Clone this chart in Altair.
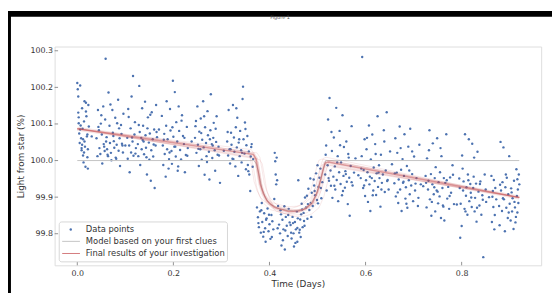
import altair as alt
import pandas as pd

TITLE = "Transit Light Curve of TOI-560c"
X_TITLE = "Time (Days)"
Y_TITLE = "Light from star (%)"
X_TICKS = [0.0, 0.2, 0.4, 0.6, 0.8]
Y_TICKS = [99.8, 99.9, 100.0, 100.1, 100.2, 100.3]
LEGEND_LABELS = ["Data points", "Model based on your first clues", "Final results of your investigation"]

PRE_X = [
    0.000,0.001,0.002,0.003,0.004,0.005,0.006,0.007,0.008,0.009,0.010,0.011,0.012,0.013,0.014,0.015,0.016,0.017,0.018,0.019,0.020,0.021,0.022,0.023,0.024,0.002,0.006,0.010,0.014,0.018,0.022,0.012,
    0.040,0.042,0.043,0.045,0.046,0.048,0.049,0.051,0.052,0.054,0.055,0.057,0.058,0.059,0.061,0.062,0.064,0.065,0.067,0.068,0.070,0.071,0.073,0.074,0.076,0.077,0.079,0.080,0.082,0.083,0.085,0.086,0.088,0.089,0.091,0.092,0.094,0.095,0.096,0.060,
    0.104,0.105,0.107,0.108,0.109,0.111,0.112,0.113,0.115,0.116,0.117,0.119,0.120,0.122,
    0.126,0.127,0.129,0.130,0.131,0.133,0.134,0.135,0.137,0.138,0.139,0.141,0.142,0.143,0.145,0.146,0.147,0.149,0.150,0.151,0.153,0.154,0.155,0.157,0.158,0.160,0.161,0.163,0.164,0.166,
    0.176,0.178,0.179,0.181,0.182,0.184,0.185,0.187,0.188,0.190,0.191,0.193,0.194,0.196,0.197,0.199,0.200,0.202,0.203,0.205,0.206,0.208,0.209,0.211,0.212,0.214,0.216,0.218,0.220,0.222,0.224,0.226,0.228,0.230,
    0.245,0.247,0.248,0.250,0.251,0.253,0.254,0.256,0.257,0.259,0.260,0.262,0.263,0.265,0.266,0.268,0.269,0.271,0.272,0.274,0.275,0.277,0.278,0.280,0.281,0.283,0.284,0.286,0.287,0.289,0.290,0.292,0.294,0.297,
    0.312,0.314,0.315,0.317,0.318,0.320,0.321,0.323,0.324,0.326,0.327,0.329,0.330,0.332,0.333,0.335,0.336,0.338,0.339,0.341,0.342,0.344,0.345,0.346,0.348,0.349,0.351,0.352,0.354,0.355,0.357,0.358,0.360,0.361,0.363,0.365,
]
PRE_Y = [
    100.212,100.195,100.131,100.102,100.074,100.048,100.205,100.096,100.061,100.028,100.143,100.087,100.014,99.995,100.107,100.052,100.038,99.983,100.158,100.121,100.066,100.009,99.978,100.152,100.093,100.175,100.085,100.043,100.022,100.134,100.031,100.058,
    100.061,100.012,100.138,100.083,100.034,100.018,100.101,100.071,99.992,100.148,100.045,100.026,100.112,100.278,100.064,100.031,100.012,100.186,100.095,100.048,100.021,100.001,100.138,100.076,100.053,100.035,100.117,100.008,100.043,100.102,100.166,100.027,100.061,99.985,100.097,100.073,100.041,100.022,100.128,100.052,
    100.062,100.005,100.119,100.041,99.968,100.088,100.022,100.175,100.052,100.231,100.013,100.071,100.105,100.034,
    100.045,100.012,100.204,100.078,99.988,100.062,100.031,100.143,100.095,100.052,100.017,100.161,100.069,100.035,99.962,100.088,100.118,100.049,100.002,100.074,99.945,100.028,100.132,100.058,100.011,100.085,99.925,100.041,100.152,100.064,
    100.122,100.041,99.988,100.073,100.018,99.956,100.095,100.031,100.058,99.978,100.004,100.141,100.082,100.026,99.991,100.218,100.065,100.038,100.187,100.011,100.105,100.052,99.972,100.148,100.081,100.029,100.003,100.124,100.067,100.045,99.968,100.015,100.092,100.034,
    100.062,100.108,100.021,100.148,100.043,99.985,100.079,100.031,100.115,100.002,100.057,100.162,100.036,99.961,100.091,100.048,100.012,100.135,100.069,100.024,99.948,100.083,100.181,100.045,100.007,100.062,100.103,100.028,99.972,100.051,100.121,100.016,100.038,99.939,
    100.052,100.014,100.138,100.031,99.992,100.076,100.043,100.005,100.152,100.063,100.024,99.984,100.091,100.036,100.117,99.958,100.049,100.012,100.081,100.028,99.995,100.168,100.202,100.058,100.019,100.104,99.976,100.042,100.067,99.988,100.025,99.962,99.917,100.011,100.045,99.983,
]
PRE2_X = [
    0.003,0.009,0.015,0.021,0.044,0.050,0.056,0.063,0.069,0.075,0.081,0.087,0.093,0.106,0.114,0.121,0.128,0.136,0.144,0.152,0.159,0.165,0.180,0.186,0.192,0.198,0.204,0.210,0.217,0.223,0.229,0.246,0.252,0.258,0.264,0.270,0.276,0.282,0.288,0.295,0.313,0.319,0.325,0.331,0.337,0.343,0.350,0.356,0.362,0.366,0.030,0.100,0.170,0.238,0.305,
]
PRE2_Y = [
    100.118,100.034,100.162,100.071,100.092,100.124,100.038,100.016,100.153,100.067,100.005,100.088,100.046,100.141,100.063,100.019,100.097,100.056,100.009,100.125,100.044,100.078,100.057,100.162,100.022,100.091,100.038,99.984,100.109,100.062,100.013,100.094,100.032,100.075,100.121,99.996,100.058,100.041,100.087,100.014,100.078,100.031,100.004,100.143,100.058,100.021,100.086,99.971,100.037,100.004,100.066,100.041,100.085,100.052,100.027,
]
TRANSIT_X = [
    0.374,0.376,0.378,0.380,0.382,0.384,0.385,0.387,0.389,0.391,0.392,0.394,0.396,0.398,0.400,0.402,0.404,0.406,0.408,0.410,0.411,0.412,0.413,0.414,0.415,0.416,0.418,0.420,0.422,0.424,0.425,0.427,0.429,0.431,0.432,0.434,0.436,0.438,0.440,0.442,
    0.444,0.446,0.448,0.450,0.451,0.453,0.455,0.457,0.458,0.460,0.462,0.464,0.465,0.467,0.469,0.471,0.472,0.474,0.476,0.478,0.479,0.481,0.483,0.485,0.486,0.488,0.490,0.492,0.493,0.495,0.497,0.499,0.500,0.502,0.504,0.506,0.508,0.510,0.458,0.466,
    0.377,0.383,0.388,0.393,0.399,0.405,0.417,0.423,0.428,0.433,0.439,0.445,0.449,0.454,0.459,0.463,0.468,0.473,0.480,0.487,0.494,0.501,0.507,
]
TRANSIT_Y = [
    99.872,99.845,99.818,99.861,99.803,99.884,99.832,99.792,99.856,99.815,99.778,99.842,99.869,99.807,99.826,99.786,99.851,99.834,99.812,99.895,100.021,99.998,99.962,99.935,100.008,99.946,99.876,99.825,99.801,99.853,99.768,99.838,99.812,99.875,99.757,99.846,99.822,99.794,99.868,99.831,
    99.824,99.787,99.846,99.801,99.765,99.832,99.812,99.861,99.778,99.946,99.803,99.839,99.791,99.882,99.818,99.857,99.835,99.899,99.872,99.904,99.841,99.923,99.865,99.951,99.884,99.912,99.876,99.948,99.932,99.905,99.965,99.892,99.987,99.928,99.953,99.978,99.897,99.941,99.816,99.853,
    99.829,99.864,99.805,99.838,99.852,99.791,99.815,99.864,99.782,99.809,99.851,99.803,99.829,99.775,99.842,99.811,99.866,99.822,99.881,99.846,99.917,99.883,99.925,
]
POST_X = [
    0.516,0.518,0.519,0.521,0.522,0.524,0.525,0.527,0.528,0.530,0.531,0.533,0.534,0.536,0.537,0.539,0.540,0.542,0.543,0.545,0.546,0.548,0.549,0.551,0.552,0.554,0.555,0.557,0.558,0.560,0.561,0.563,0.564,0.566,0.567,0.569,0.571,0.573,0.576,0.579,
    0.590,0.592,0.593,0.595,0.596,0.598,0.599,0.601,0.602,0.604,0.605,0.607,0.608,0.610,0.611,0.613,0.614,0.616,0.617,0.619,0.620,0.622,0.623,0.625,0.626,0.628,0.629,0.631,0.632,0.634,0.636,0.638,0.640,0.642,0.644,0.646,0.648,0.651,
    0.660,0.662,0.663,0.665,0.666,0.668,0.669,0.671,0.672,0.674,0.675,0.677,0.678,0.680,0.681,0.683,0.684,0.686,0.687,0.689,0.690,0.692,0.693,0.695,0.697,0.699,0.701,0.703,0.706,0.709,0.712,0.715,
    0.725,0.727,0.728,0.730,0.731,0.733,0.734,0.736,0.737,0.739,0.740,0.742,0.743,0.745,0.746,0.748,0.749,0.751,0.752,0.754,0.755,0.757,0.758,0.760,0.761,0.763,0.764,0.766,0.768,0.770,0.772,0.774,0.776,0.778,0.781,0.784,
    0.795,0.797,0.798,0.800,0.801,0.803,0.804,0.806,0.807,0.809,0.810,0.812,0.813,0.815,0.816,0.818,0.819,0.821,0.822,0.824,0.825,0.827,0.828,0.830,0.831,0.833,0.835,0.837,0.839,0.841,0.843,0.845,0.848,0.851,
    0.862,0.863,0.864,0.866,0.867,0.868,0.870,0.872,
    0.878,0.879,0.881,0.882,0.884,0.885,0.887,0.888,0.890,0.891,0.893,0.894,0.896,0.897,0.899,0.900,0.902,0.903,0.905,0.906,0.908,0.909,0.911,0.912,0.914,0.915,0.916,0.917,0.918,0.919,0.920,0.913,
]
POST_Y = [
    99.962,100.041,99.918,99.987,100.112,99.945,100.171,99.973,99.931,100.026,99.898,99.956,100.063,99.984,99.921,100.144,99.947,100.012,99.889,99.968,100.081,99.936,99.995,99.905,100.124,99.958,100.037,99.926,99.971,100.052,99.942,99.881,100.018,99.953,99.849,99.985,100.094,99.932,99.967,100.006,
    99.952,100.012,100.283,99.925,99.974,100.058,99.903,99.946,100.031,99.968,99.887,100.096,99.935,99.862,100.003,99.952,100.071,99.918,99.981,99.944,100.045,99.906,99.965,100.121,99.928,99.987,99.952,99.874,100.016,99.939,99.962,100.083,99.914,99.973,100.132,99.947,99.921,100.025,
    99.938,100.061,99.902,99.967,100.021,99.884,99.948,100.093,99.921,99.975,99.862,100.004,99.939,99.958,100.072,99.896,99.927,99.985,99.871,100.038,99.946,99.908,100.087,99.932,99.963,99.889,100.011,99.918,99.952,99.876,100.043,99.935,
    99.958,99.872,100.006,99.921,99.945,100.083,99.894,99.963,99.849,99.935,100.047,99.908,99.927,99.861,99.982,99.918,100.061,99.883,99.941,99.902,99.968,99.843,100.012,99.925,99.877,99.952,99.836,99.939,100.072,99.896,99.928,99.868,99.954,99.912,99.987,99.881,
    99.951,99.789,99.882,99.821,100.014,99.918,99.943,99.868,100.072,99.904,99.927,99.852,99.962,100.058,99.889,99.936,99.912,99.873,100.046,99.925,99.956,99.861,99.898,99.937,99.833,100.024,99.915,99.877,99.943,99.852,99.905,99.736,99.962,99.887,
    99.958,99.832,99.901,99.873,99.947,99.812,99.925,99.894,
    99.876,99.823,100.051,99.918,99.862,99.941,100.036,99.894,99.807,99.927,99.871,99.953,99.843,99.908,100.012,99.882,99.836,99.924,99.861,99.897,99.813,99.945,99.872,99.831,99.976,99.903,99.858,99.921,99.884,99.962,99.935,99.846,
]
POST2_X = [
    0.517,0.523,0.529,0.535,0.541,0.547,0.553,0.559,0.565,0.571,0.591,0.597,0.603,0.609,0.615,0.621,0.627,0.633,0.639,0.645,0.661,0.667,0.673,0.679,0.685,0.691,0.697,0.704,0.710,0.726,0.732,0.738,0.744,0.750,0.756,0.762,0.769,0.775,0.782,0.796,0.802,0.808,0.814,0.820,0.826,0.832,0.838,0.844,0.850,0.865,0.869,0.880,0.886,0.892,0.898,0.904,0.910,0.916,0.585,0.655,0.720,0.790,0.857,
]
POST2_Y = [
    100.016,99.952,100.078,99.931,99.995,100.042,99.917,99.963,100.008,99.941,99.978,99.932,100.062,99.956,99.905,100.018,99.967,99.921,100.052,99.944,99.965,99.913,100.034,99.942,99.882,99.973,100.025,99.937,99.898,99.939,100.028,99.887,99.952,99.915,100.034,99.874,99.946,99.903,99.961,99.925,99.978,99.861,99.946,99.899,100.008,99.871,99.936,99.893,99.921,99.917,99.851,99.934,99.897,99.962,99.858,99.913,99.887,99.949,99.960,99.990,99.930,99.880,99.900,
]

MODEL_X = [0.0, 0.368, 0.373, 0.378, 0.384, 0.391, 0.40, 0.42, 0.45, 0.47, 0.485, 0.497, 0.505, 0.511, 0.515, 0.517, 0.92]
MODEL_Y = [100.0, 100.0, 99.99, 99.963, 99.925, 99.9, 99.882, 99.868, 99.862, 99.866, 99.88, 99.905, 99.94, 99.97, 99.99, 100.0, 100.0]

FINAL_X = [0.0, 0.366, 0.372, 0.376, 0.381, 0.387, 0.395, 0.41, 0.44, 0.46, 0.475, 0.49, 0.5, 0.507, 0.512, 0.516, 0.522, 0.92]
FINAL_Y = [100.087, 100.017, 100.005, 99.975, 99.935, 99.91, 99.89, 99.872, 99.861, 99.862, 99.868, 99.885, 99.915, 99.95, 99.978, 99.993, 99.996, 99.899]

# posterior-sample offsets of the fitted transit (time shift, depth shift)
SAMPLE_DX = [-0.013, -0.008, -0.004, 0.004, 0.008, 0.013]
SAMPLE_DY = [0.008, -0.006, 0.013, -0.010, 0.004, -0.014]

FONT = "DejaVu Sans"
TXT = "#333333"
BLUE = "#4c72b0"
RED = "#c44e52"
GRAY = "#c4c4c4"

pts = pd.DataFrame({"x": PRE_X + PRE2_X + TRANSIT_X + POST_X + POST2_X,
                    "y": PRE_Y + PRE2_Y + TRANSIT_Y + POST_Y + POST2_Y})
model = pd.DataFrame({"x": MODEL_X, "y": MODEL_Y})
final = pd.DataFrame({"x": FINAL_X, "y": FINAL_Y})
rows = []
for k, (dx, dy) in enumerate(zip(SAMPLE_DX, SAMPLE_DY)):
    n = len(FINAL_X)
    for i, (fx, fy) in enumerate(zip(FINAL_X, FINAL_Y)):
        if 0 < i < n - 1:
            rows.append({"x": fx + dx, "y": fy + dy, "m": k})
        else:
            rows.append({"x": fx, "y": fy, "m": k})
samples = pd.DataFrame(rows)
xt = pd.DataFrame({"x": X_TICKS})
yt = pd.DataFrame({"y": Y_TICKS})
leg = pd.DataFrame({"label": LEGEND_LABELS})

W, H = 493.7, 222
xs = alt.Scale(domain=[-0.0472, 0.9655], nice=False, zero=False)
ys = alt.Scale(domain=[99.7137, 100.3116], nice=False, zero=False)
xax = alt.Axis(values=X_TICKS, format=".1f", tickSize=0, domain=False, grid=False,
               labelPadding=4, title=X_TITLE, titlePadding=3, labelFontSize=8,
               titleFontSize=9, labelColor=TXT, titleColor=TXT, titleFontWeight="normal",
               labelFont=FONT, titleFont=FONT)
yax = alt.Axis(values=Y_TICKS, format=".1f", tickSize=0, domain=False, grid=False,
               labelPadding=2, title=Y_TITLE, titlePadding=5, labelFontSize=8,
               titleFontSize=9, labelColor=TXT, titleColor=TXT, titleFontWeight="normal",
               labelFont=FONT, titleFont=FONT)
X = alt.X("x:Q", scale=xs, axis=xax)
Y = alt.Y("y:Q", scale=ys, axis=yax)

points = alt.Chart(pts).mark_circle(size=6, color=BLUE, opacity=1).encode(x=X, y=Y)
model_line = alt.Chart(model).mark_line(color=GRAY, strokeWidth=1).encode(x=X, y=Y)
sample_lines = alt.Chart(samples).mark_line(color=RED, strokeWidth=0.8, opacity=0.16).encode(
    x=X, y=Y, detail="m:N")
final_band = alt.Chart(final).mark_line(color=RED, strokeWidth=4, opacity=0.16).encode(x=X, y=Y)
final_line = alt.Chart(final).mark_line(color=RED, strokeWidth=1.5, opacity=0.5).encode(x=X, y=Y)

xticks = alt.Chart(xt).mark_rule(color="#777", strokeWidth=0.8).encode(
    x=X, y=alt.value(H), y2=alt.value(H - 3.5))
yticks = alt.Chart(yt).mark_rule(color="#777", strokeWidth=0.8).encode(
    y=Y, x=alt.value(0), x2=alt.value(3.5))

one = leg.head(1)
box = alt.Chart(one).mark_rect(fill="white", fillOpacity=0.85, stroke="#cccccc",
                               strokeWidth=0.8, cornerRadius=2.5).encode(
    x=alt.value(4.7), x2=alt.value(175.4), y=alt.value(178), y2=alt.value(218.5))
leg_dot = alt.Chart(one).mark_circle(size=6, color=BLUE, opacity=1).encode(
    x=alt.value(16.4), y=alt.value(185.7))
leg_gray = alt.Chart(one).mark_rule(color=GRAY, strokeWidth=1).encode(
    x=alt.value(7.7), x2=alt.value(25.7), y=alt.value(197.7))
leg_red = alt.Chart(one).mark_rule(color=RED, strokeWidth=1, opacity=0.75).encode(
    x=alt.value(7.7), x2=alt.value(25.7), y=alt.value(210))
leg_texts = []
for i, yy in enumerate([185.7, 197.7, 210]):
    leg_texts.append(
        alt.Chart(leg).transform_filter(alt.datum.label == LEGEND_LABELS[i])
        .mark_text(align="left", baseline="middle", font=FONT, fontSize=8.5, color=TXT)
        .encode(x=alt.value(31.7), y=alt.value(yy), text="label:N"))

bar_top = alt.Chart(one).mark_rect(color="black").encode(
    x=alt.value(-47.3), x2=alt.value(505), y=alt.value(-36), y2=alt.value(-30.3))
bar_left = alt.Chart(one).mark_rect(color="black").encode(
    x=alt.value(-47.3), x2=alt.value(-44.3), y=alt.value(-36), y2=alt.value(250))
fig_label = alt.Chart(pd.DataFrame({"t": ["Figure 1"]})).mark_text(
    font=FONT, fontSize=5, color="#555", baseline="bottom").encode(
    x=alt.value(228.7), y=alt.value(-26.5), text="t:N")

chart = alt.layer(
    points, model_line, sample_lines, final_band, final_line, xticks, yticks,
    box, leg_dot, leg_gray, leg_red, *leg_texts, bar_top, bar_left, fig_label
).properties(
    width=W, height=H,
    title=alt.TitleParams(TITLE, fontSize=10, font=FONT, fontWeight="normal",
                          color="#262626", offset=4, anchor="middle"),
    padding={"left": 47.3, "top": 37, "right": 11, "bottom": 26},
    autosize=alt.AutoSizeParams(type="none"),
).configure_view(stroke="#888888", strokeWidth=1).configure(background="white")

chart.save("out.html", embed_options={"renderer": "svg", "actions": False})
